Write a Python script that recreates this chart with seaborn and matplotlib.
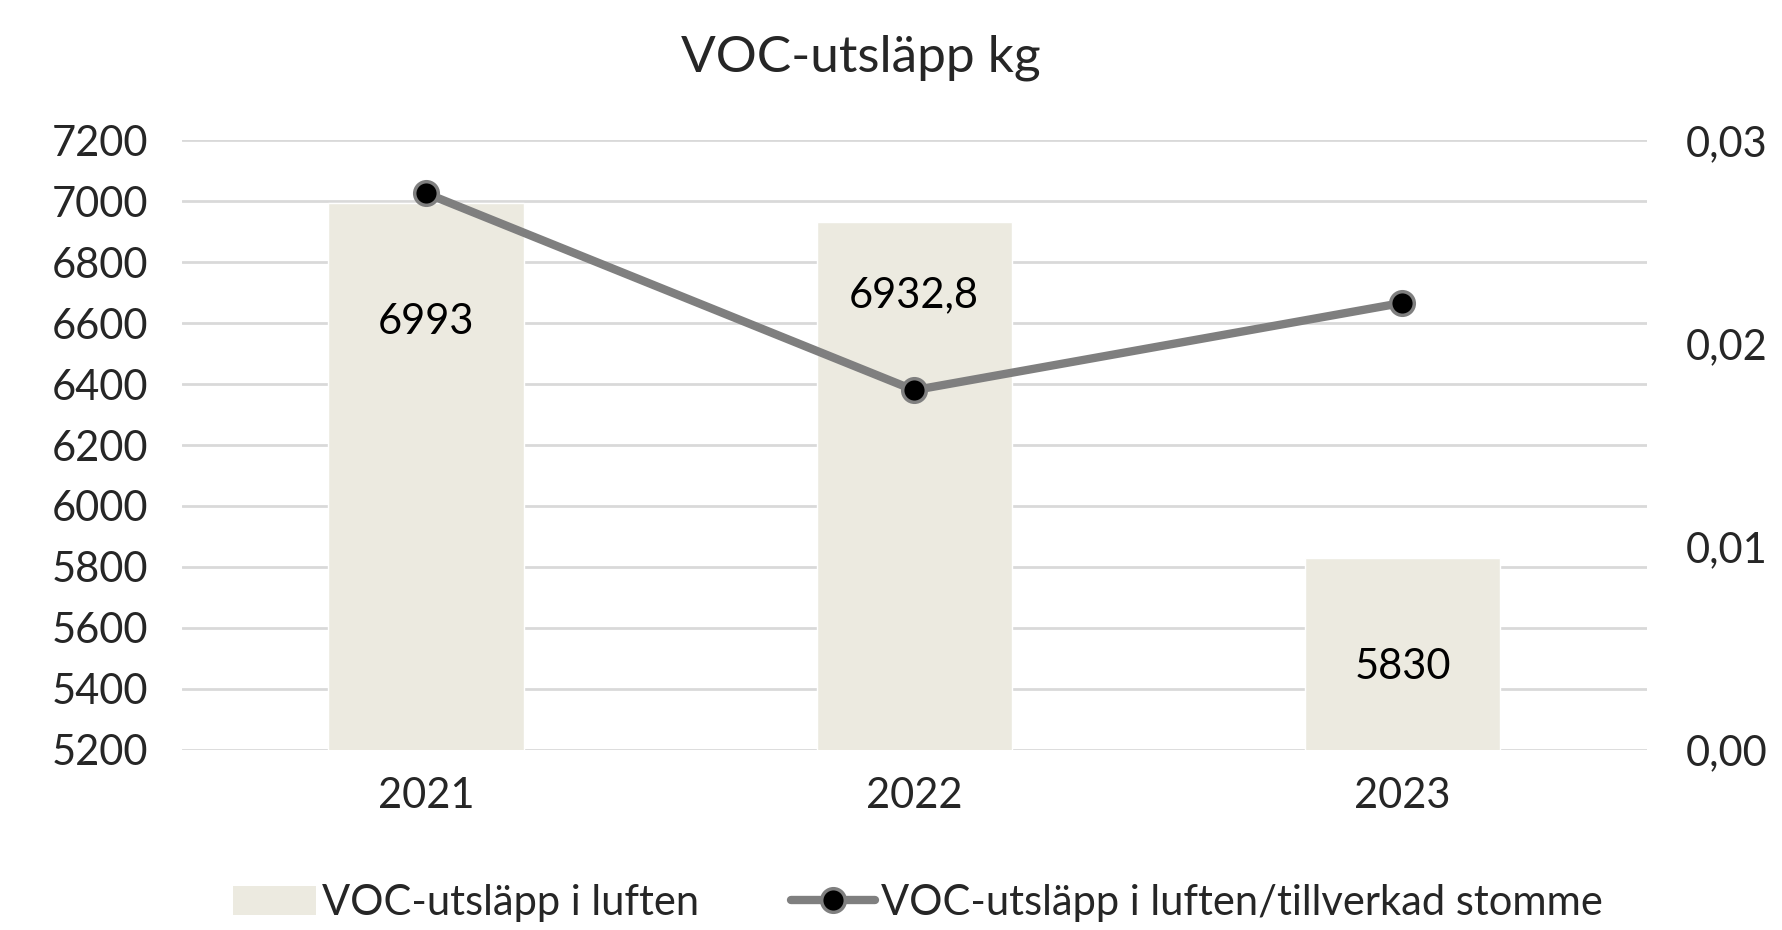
import numpy as np
import matplotlib
matplotlib.use('Agg')
import matplotlib.pyplot as plt
import seaborn as sns
from matplotlib.ticker import FuncFormatter
from matplotlib.patches import Patch
from matplotlib.lines import Line2D

# Data
years = ['2021', '2022', '2023']
voc_kg = [6993, 6932.8, 5830]
voc_per_frame = [0.0274, 0.0177, 0.0220]
bar_labels = ['6993', '6932,8', '5830']

sns.set_style('white')
plt.rcParams['font.family'] = ['Lato', 'DejaVu Sans']

bar_color = '#ECEAE0'
line_color = '#7F7F7F'
grid_color = '#D9D9D9'

fig = plt.figure(figsize=(17.82, 9.30), dpi=100)
ax = fig.add_axes([0.102, 0.194, 0.822, 0.655])

sns.barplot(x=years, y=voc_kg, color=bar_color, width=0.4, saturation=1, ax=ax, zorder=2)
ax.set_ylim(5200, 7200)
ax.set_yticks(np.arange(5200, 7201, 200))
ax.set_xlim(-0.5, 2.5)
ax.grid(axis='y', color=grid_color, linewidth=2, zorder=0)
ax.set_axisbelow(True)
for s in ax.spines.values():
    s.set_visible(False)
ax.tick_params(axis='both', length=0, labelsize=30)
ax.tick_params(axis='y', pad=24)
ax.tick_params(axis='x', pad=20)
ax.set_xlabel('')
ax.set_ylabel('')

# Value labels inside bars (Excel-style placement)
label_y = [6604, 6693, 5472]
for i, (txt, yy) in enumerate(zip(bar_labels, label_y)):
    ax.text(i, yy, txt, ha='center', va='center', fontsize=30, color='black', zorder=5)

ax2 = ax.twinx()
sns.lineplot(x=np.arange(len(years)), y=voc_per_frame, ax=ax2, color=line_color,
             linewidth=6, marker='o', markersize=17, markerfacecolor='black',
             markeredgecolor=line_color, markeredgewidth=2.5, zorder=4)
ax2.set_ylim(0, 0.03)
ax2.set_yticks([0, 0.01, 0.02, 0.03])
ax2.yaxis.set_major_formatter(FuncFormatter(lambda v, p: f'{v:.2f}'.replace('.', ',')))
ax2.tick_params(axis='y', length=0, labelsize=30, pad=28)
for s in ax2.spines.values():
    s.set_visible(False)
ax2.set_ylabel('')

fig.text(0.483, 0.938, 'VOC-utsläpp kg', ha='center', va='center', fontsize=37)

handles = [Patch(facecolor=bar_color, edgecolor='none'),
           Line2D([0], [0], color=line_color, linewidth=6, marker='o', markersize=17,
                  markerfacecolor='black', markeredgecolor=line_color, markeredgewidth=2.5)]
fig.legend(handles, ['VOC-utsläpp i luften', 'VOC-utsläpp i luften/tillverkad stomme'],
           loc='center', bbox_to_anchor=(0.515, 0.029), ncol=2, frameon=False,
           fontsize=30, handlelength=2.0, handletextpad=0.15, columnspacing=2.2)

fig.savefig('out.png', dpi=100)
